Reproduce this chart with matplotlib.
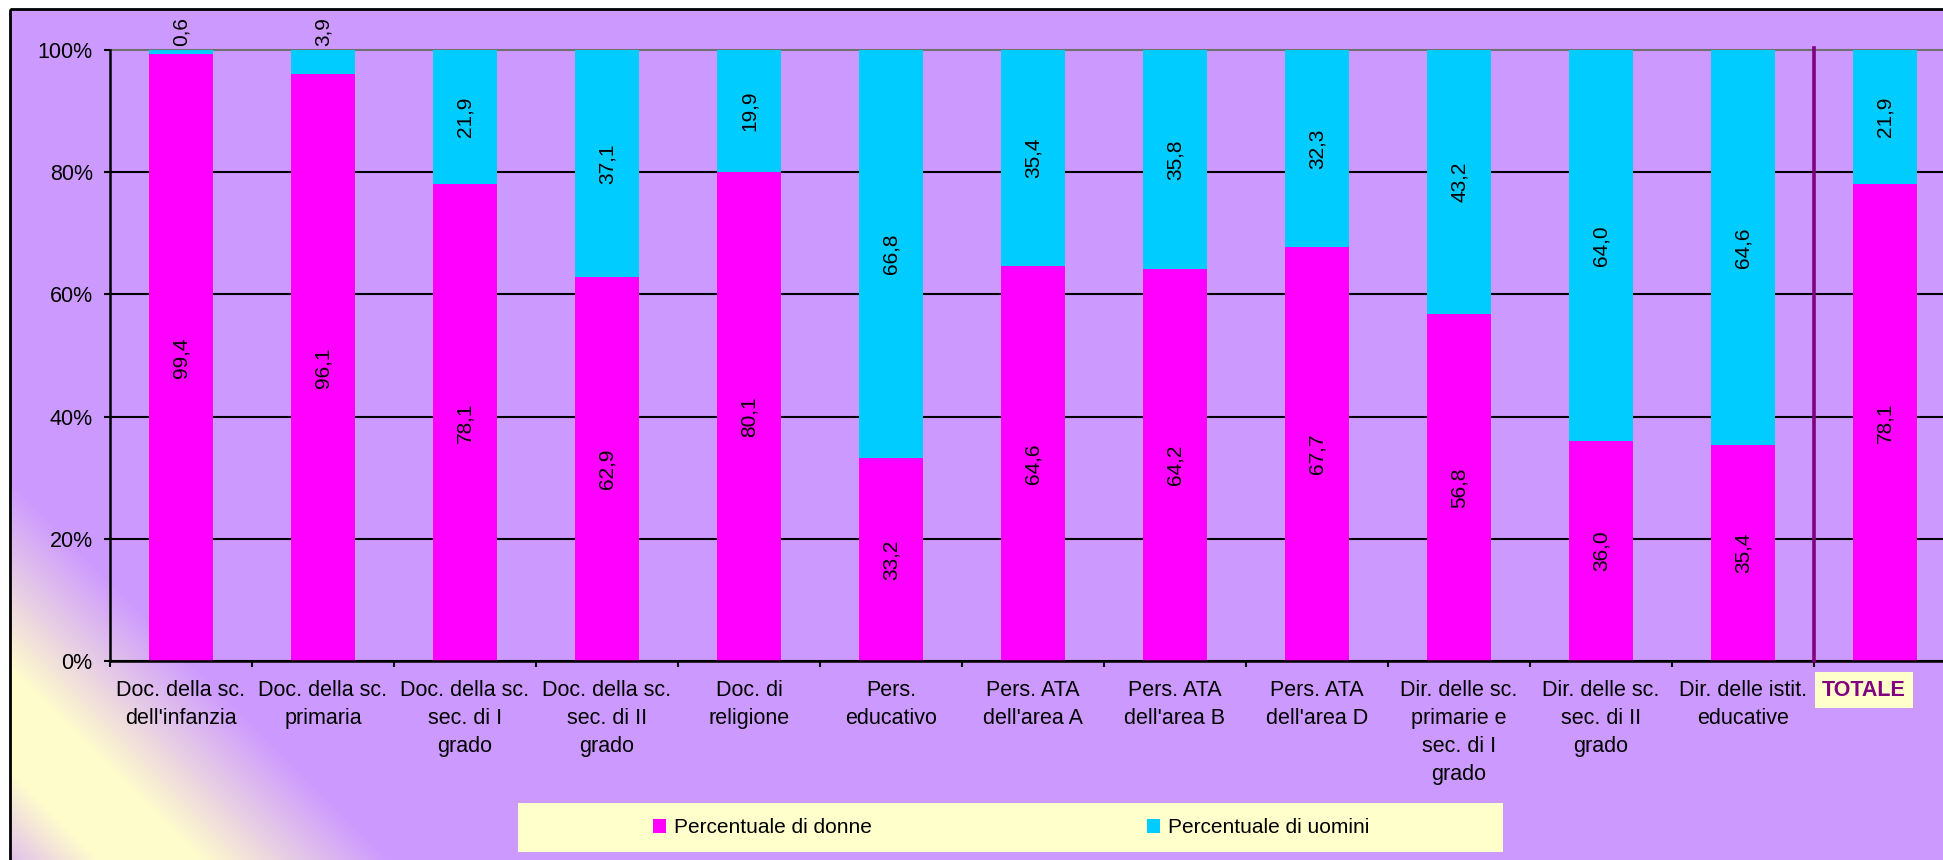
import matplotlib
matplotlib.use("Agg")
import matplotlib.pyplot as plt
import numpy as np
from matplotlib.patches import Rectangle
from matplotlib.transforms import ScaledTranslation

plt.rcParams["font.family"] = ["Liberation Sans", "DejaVu Sans"]

categorie = [
    "Doc. della sc.\ndell'infanzia",
    "Doc. della sc.\nprimaria",
    "Doc. della sc.\nsec. di I\ngrado",
    "Doc. della sc.\nsec. di II\ngrado",
    "Doc. di\nreligione",
    "Pers.\neducativo",
    "Pers. ATA\ndell'area A",
    "Pers. ATA\ndell'area B",
    "Pers. ATA\ndell'area D",
    "Dir. delle sc.\nprimarie e\nsec. di I\ngrado",
    "Dir. delle sc.\nsec. di II\ngrado",
    "Dir. delle istit.\neducative",
    "TOTALE",
]
donne = [99.4, 96.1, 78.1, 62.9, 80.1, 33.2, 64.6, 64.2, 67.7, 56.8, 36.0, 35.4, 78.1]
uomini = [0.6, 3.9, 21.9, 37.1, 19.9, 66.8, 35.4, 35.8, 32.3, 43.2, 64.0, 64.6, 21.9]
yticks = [0, 20, 40, 60, 80, 100]

W, H = 1943, 860
YELLOW = "#FFFFCC"
MAGENTA = "#FF00FF"
CYAN = "#00CCFF"
DARK = "#800080"


def fmt(v):
    return f"{v:.1f}".replace(".", ",")


fig = plt.figure(figsize=(W / 100, H / 100), dpi=100, facecolor="white")

# chart area background with the diagonal gradient in the lower-left corner
bg = fig.add_axes([0, 0, 1, 1], zorder=-10)
bg.set_xlim(0, W)
bg.set_ylim(H, 0)
bg.axis("off")
yy, xx = np.mgrid[9:H, 10:W + 5]
s = (xx - 10) + (H - yy)
outer = np.clip((380 - s) / 190, 0, 1)
inner = np.clip((s + 60) / 150, 0, 1)
t = np.minimum(outer, inner)
c0 = np.array([0.80, 0.60, 1.00])
c1 = np.array([1.00, 0.99, 0.80])
img = c0 + t[..., None] * (c1 - c0)
bg.imshow(img, extent=[10, W + 5, H, 9], aspect="auto", interpolation="bilinear")
bg.add_patch(Rectangle((10, 9), W + 20, H + 20, fill=False, edgecolor="black", lw=2))
bg.add_patch(Rectangle((518, 803), 985, 49, facecolor=YELLOW, edgecolor="none"))

ax = fig.add_axes([110 / W, (H - 661) / H, 1846 / W, 611 / H])
ax.set_facecolor("none")
x = np.arange(len(categorie))
b1 = ax.bar(x, donne, width=0.45, color=MAGENTA, label="Percentuale di donne", zorder=2)
b2 = ax.bar(x, uomini, width=0.45, bottom=donne, color=CYAN,
            label="Percentuale di uomini", zorder=2)

for i, (d, u) in enumerate(zip(donne, uomini)):
    ax.text(i, d / 2, fmt(d), rotation=90, ha="center", va="center", fontsize=15, zorder=3)
    if u < 5:
        ax.annotate(fmt(u), (i, d + u), xytext=(0, 3), textcoords="offset points",
                    rotation=90, ha="center", va="bottom", fontsize=15)
    else:
        ax.text(i, d + u / 2, fmt(u), rotation=90, ha="center", va="center",
                fontsize=15, zorder=3)

ax.set_xlim(-0.5, len(categorie) - 0.5)
ax.set_ylim(0, 100)
ax.set_yticks(yticks, labels=[f"{v}%" for v in yticks])
ax.set_xticks(x, labels=categorie)
ax.set_xticks(np.arange(len(categorie) + 1) - 0.5, minor=True)
ax.tick_params(axis="x", which="major", length=0, pad=13.5, labelsize=15.5)
ax.tick_params(axis="x", which="minor", length=4.5, width=1.5, direction="out")
ax.tick_params(axis="y", length=4.5, width=1.5, direction="out", pad=8, labelsize=15.5)
for lbl in ax.get_xticklabels():
    lbl.set_linespacing(1.45)

ax.set_axisbelow(True)
ax.yaxis.grid(True, color="black", lw=1.5)
top = ax.get_ygridlines()[-1]
top.set_color("#707070")
top.set_clip_on(False)

for side in ("top", "right"):
    ax.spines[side].set_visible(False)
for side in ("left", "bottom"):
    ax.spines[side].set_linewidth(1.8)

# separator before the total
ax.axvline(len(categorie) - 1.5, ymin=0, ymax=1.004, color=DARK, lw=2.6,
           clip_on=False, zorder=3)

tot = ax.xaxis.get_major_ticks()[-1].label1
tot.set_fontweight("bold")
tot.set_color(DARK)
tot.set_bbox(dict(boxstyle="square,pad=0.35", facecolor=YELLOW, edgecolor="none"))
tot.set_transform(tot.get_transform() + ScaledTranslation(-0.21, 0, fig.dpi_scale_trans))

fig.legend(handles=[b1, b2], loc="center", bbox_to_anchor=(1011 / W, (H - 827.5) / H),
           ncol=2, frameon=False, fontsize=15, handlelength=0.62, handleheight=0.68,
           handletextpad=0.4, columnspacing=13.2)

fig.savefig("out.png", dpi=100)
